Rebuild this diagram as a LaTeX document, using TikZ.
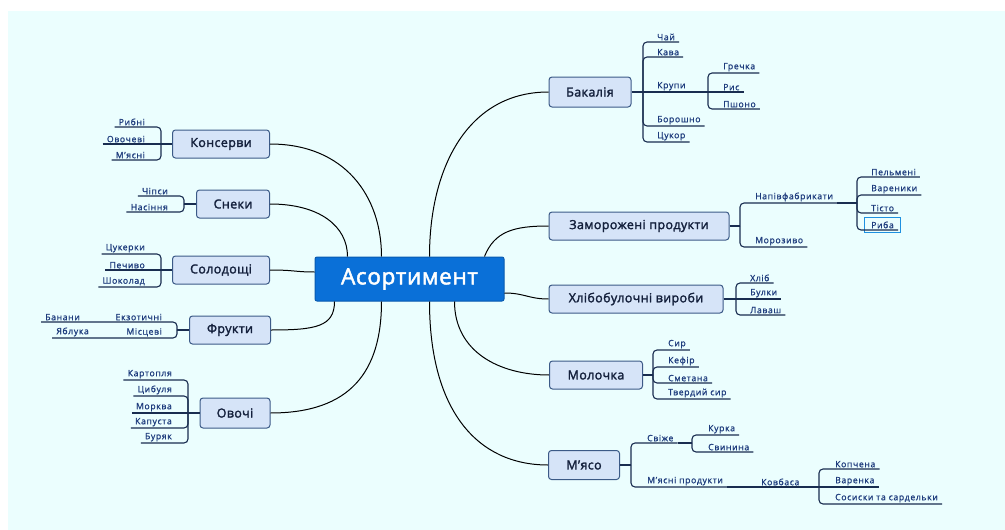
\documentclass[tikz,border=0pt]{standalone}
\usepackage{fontspec}
\setmainfont{Open Sans}
\newfontfamily\topicfont{Open Sans}[LetterSpace=3,BoldFont={Open Sans},BoldFeatures={FakeBold=2}]
\newfontfamily\leaffont{Open Sans}[LetterSpace=7,BoldFont={Open Sans},BoldFeatures={FakeBold=1}]
\usetikzlibrary{fit}

\definecolor{bgcyan}{RGB}{235,254,254}
\definecolor{topicfill}{RGB}{214,228,248}
\definecolor{topicline}{RGB}{60,90,135}
\definecolor{topictext}{RGB}{20,32,60}
\definecolor{leaftext}{RGB}{30,60,125}
\definecolor{ulinecol}{RGB}{25,45,80}
\definecolor{centerfill}{RGB}{10,112,216}
\definecolor{centerline}{RGB}{8,90,175}
\definecolor{selblue}{RGB}{30,144,224}

\tikzset{
  topic/.style={draw=topicline, fill=topicfill, line width=1pt, rounded corners=3pt,
    minimum height=28pt, inner sep=0pt, font=\topicfont\bfseries\fontsize{12.5}{14}\selectfont, text=topictext},
  central/.style={draw=centerline, fill=centerfill, line width=1pt, rounded corners=2pt,
    minimum width=189pt, minimum height=44pt, font=\topicfont\bfseries\fontsize{22.5}{26}\selectfont, text=white},
  leafr/.style={anchor=south west, inner xsep=4pt, inner ysep=1.5pt,
    font=\leaffont\bfseries\fontsize{8.7}{10}\selectfont, text=leaftext},
  leafl/.style={leafr, anchor=south east},
  uline/.style={draw=ulinecol, line width=1.1pt, rounded corners=4pt},
  branch/.style={draw=black, line width=1pt},
  selbox/.style={draw=selblue, line width=1pt, inner xsep=2.5pt, inner ysep=2pt}
}

\begin{document}
\begin{tikzpicture}[x=1pt,y=1pt,yscale=-1,xscale=1]
\useasboundingbox (0,0) rectangle (1005,530);
\fill[bgcyan] (8,11) rectangle (1005,530);

% Centre
\node[central] (asort) at (409.5,279) {Асортимент};

% Topics, left
\node[topic, minimum width=97pt] (konserv) at (221,144) {Консерви};
\node[topic, minimum width=73pt] (sneky) at (233,204) {Снеки};
\node[topic, minimum width=97pt] (solod) at (221,270) {Солодощі};
\node[topic, minimum width=81pt] (frukty) at (230,330) {Фрукти};
\node[topic, minimum width=70pt, minimum height=30pt] (ovochi) at (235,413) {Овочі};

% Topics, right
\node[topic, minimum width=82pt, minimum height=30pt] (bakal) at (590,92) {Бакалія};
\node[topic, minimum width=180pt] (zamor) at (639,226) {Заморожені продукти};
\node[topic, minimum width=174pt] (khlib) at (636,299) {Хлібобулочні вироби};
\node[topic, minimum width=93pt] (moloch) at (596,375) {Молочка};
\node[topic, minimum width=71pt, minimum height=29pt] (myaso) at (584,465) {М’ясо};

% Branches from the centre
\draw[branch] (konserv.east) .. controls +(75,0) and +(0,-60) .. ([xshift=-28pt]asort.north);
\draw[branch] (sneky.east) .. controls +(50,0) and +(0,-30) .. ([xshift=-62pt]asort.north);
\draw[branch] (solod.east) .. controls +(25,0) and +(-20,0) .. ([yshift=-7pt]asort.west);
\draw[branch] (frukty.east) .. controls +(45,0) and +(0,25) .. ([xshift=-75pt]asort.south);
\draw[branch] (ovochi.east) .. controls +(80,0) and +(0,70) .. ([xshift=-28pt]asort.south);
\draw[branch] ([xshift=20pt]asort.north) .. controls +(0,-90) and +(-80,0) .. (bakal.west);
\draw[branch] ([xshift=75pt]asort.north) .. controls +(10,-25) and +(-35,0) .. (zamor.west);
\draw[branch] ([yshift=14pt]asort.east) .. controls +(20,0) and +(-20,0) .. (khlib.west);
\draw[branch] ([xshift=45pt]asort.south) .. controls +(0,50) and +(-50,0) .. (moloch.west);
\draw[branch] ([xshift=20pt]asort.south) .. controls +(0,110) and +(-70,0) .. (myaso.west);

% Консерви
\coordinate (kon) at (161,144);
\node[leafl] (ribni) at (149,127) {Рибні};
\node[leafl] (ovochevi) at (149,144) {Овочеві};
\node[leafl] (myasni) at (149,160) {М’ясні};
\draw[uline] (kon) -- (konserv.west);
\draw[uline] (ribni.south west) -- (ribni.south east) -| (kon);
\draw[uline] (ovochevi.south west) -- (kon);
\draw[uline] (myasni.south west) -- (myasni.south east) -| (kon);

% Снеки
\coordinate (sne) at (184,204);
\node[leafl] (chipsy) at (172,196) {Чіпси};
\node[leafl] (nasinnya) at (172,212) {Насіння};
\draw[uline] (sne) -- (sneky.west);
\draw[uline] (chipsy.south west) -- (chipsy.south east) -| (sne);
\draw[uline] (nasinnya.south west) -- (nasinnya.south east) -| (sne);

% Солодощі
\coordinate (sol) at (161,270);
\node[leafl] (tsukerky) at (149,254) {Цукерки};
\node[leafl] (pechyvo) at (149,270) {Печиво};
\node[leafl] (shokolad) at (149,287) {Шоколад};
\draw[uline] (sol) -- (solod.west);
\draw[uline] (tsukerky.south west) -- (tsukerky.south east) -| (sol);
\draw[uline] (pechyvo.south west) -- (sol);
\draw[uline] (shokolad.south west) -- (shokolad.south east) -| (sol);

% Фрукти
\coordinate (fru) at (177,330);
\node[leafl] (ekzot) at (166,322) {Екзотичні};
\node[leafl] (mistsevi) at (166,338) {Місцеві};
\node[leafl] (banany) at (84,322) {Банани};
\node[leafl] (yabluka) at (93,338) {Яблука};
\draw[uline] (fru) -- (frukty.west);
\draw[uline] (banany.south west) -- (banany.south east) -- (ekzot.south west) -- (ekzot.south east) -| (fru);
\draw[uline] (yabluka.south west) -- (yabluka.south east) -- (mistsevi.south west) -- (mistsevi.south east) -| (fru);

% Овочі
\coordinate (ovo) at (188,413);
\node[leafl] (kartoplya) at (176,380) {Картопля};
\node[leafl] (tsybulya) at (176,396) {Цибуля};
\node[leafl] (morkva) at (176,413) {Морква};
\node[leafl] (kapusta) at (176,428) {Капуста};
\node[leafl] (buryak) at (176,443) {Буряк};
\draw[uline] (ovo) -- (ovochi.west);
\draw[uline] (kartoplya.south west) -- (kartoplya.south east) -| (ovo);
\draw[uline] (tsybulya.south west) -- (tsybulya.south east) -| (ovo);
\draw[uline] (morkva.south west) -- (ovo);
\draw[uline] (kapusta.south west) -- (kapusta.south east) -| (ovo);
\draw[uline] (buryak.south west) -- (buryak.south east) -| (ovo);

% Бакалія
\coordinate (bak) at (643,92);
\node[leafr] (chai) at (653,42) {Чай};
\node[leafr] (kava) at (653,57) {Кава};
\node[leafr] (krupy) at (653,92) {Крупи};
\node[leafr] (boroshno) at (653,126) {Борошно};
\node[leafr] (tsukor) at (653,142) {Цукор};
\draw[uline] (bakal.east) -- (bak);
\draw[uline] (bak) |- (chai.south west) -- (chai.south east);
\draw[uline] (bak) |- (kava.south west) -- (kava.south east);
\draw[uline] (bak) -- (krupy.south west) -- (krupy.south east);
\draw[uline] (bak) |- (boroshno.south west) -- (boroshno.south east);
\draw[uline] (bak) |- (tsukor.south west) -- (tsukor.south east);
% Крупи
\coordinate (kru) at (708,92);
\node[leafr] (grechka) at (719,73) {Гречка};
\node[leafr] (rys) at (719,92) {Рис};
\node[leafr] (pshono) at (719,109) {Пшоно};
\draw[uline] (krupy.south east) -- (kru);
\draw[uline] (kru) |- (grechka.south west) -- (grechka.south east);
\draw[uline] (kru) -- (rys.south west) -- (rys.south east);
\draw[uline] (kru) |- (pshono.south west) -- (pshono.south east);

% Заморожені продукти
\coordinate (zam) at (740,226);
\node[leafr] (napiv) at (751,203) {Напівфабрикати};
\node[leafr] (morozyvo) at (751,247) {Морозиво};
\draw[uline] (zamor.east) -- (zam);
\draw[uline] (zam) |- (napiv.south west) -- (napiv.south east);
\draw[uline] (zam) |- (morozyvo.south west) -- (morozyvo.south east);
% Напівфабрикати
\coordinate (nap) at (857,203);
\node[leafr] (pelmeni) at (867,177) {Пельмені};
\node[leafr] (varenyky) at (867,195) {Вареники};
\node[leafr] (tisto) at (867,213) {Тісто};
\node[leafr] (ryba) at (867,230) {Риба};
\node[selbox, fit=(ryba)] (rybasel) {};
\draw[uline] (napiv.south east) -- (nap);
\draw[uline] (nap) |- (pelmeni.south west) -- (pelmeni.south east);
\draw[uline] (nap) |- (varenyky.south west) -- (varenyky.south east);
\draw[uline] (nap) |- (tisto.south west) -- (tisto.south east);
\draw[uline] (nap) |- (ryba.south west) -- (ryba.south east);

% Хлібобулочні вироби
\coordinate (khl) at (736,299);
\node[leafr] (khlibl) at (746,283) {Хліб};
\node[leafr] (bulky) at (746,299) {Булки};
\node[leafr] (lavash) at (746,315) {Лаваш};
\draw[uline] (khlib.east) -- (khl);
\draw[uline] (khl) |- (khlibl.south west) -- (khlibl.south east);
\draw[uline] (khl) -- (bulky.south west) -- (bulky.south east);
\draw[uline] (khl) |- (lavash.south west) -- (lavash.south east);

% Молочка
\coordinate (mol) at (653,375);
\node[leafr] (syr) at (664,350) {Сир};
\node[leafr] (kefir) at (664,367) {Кефір};
\node[leafr] (smetana) at (664,383) {Сметана};
\node[leafr] (tverdyi) at (664,399) {Твердий сир};
\draw[uline] (moloch.east) -- (mol);
\draw[uline] (mol) |- (syr.south west) -- (syr.south east);
\draw[uline] (mol) |- (kefir.south west) -- (kefir.south east);
\draw[uline] (mol) |- (smetana.south west) -- (smetana.south east);
\draw[uline] (mol) |- (tverdyi.south west) -- (tverdyi.south east);

% М'ясо
\coordinate (mya) at (631,465);
\node[leafr] (svizhe) at (643,443) {Свіже};
\node[leafr] (myasprod) at (643,487) {М’ясні продукти};
\draw[uline] (myaso.east) -- (mya);
\draw[uline] (mya) |- (svizhe.south west) -- (svizhe.south east);
\draw[uline] (mya) |- (myasprod.south west) -- (myasprod.south east);
% Свіже
\coordinate (svi) at (692,443);
\node[leafr] (kurka) at (704,435) {Курка};
\node[leafr] (svynyna) at (704,452) {Свинина};
\draw[uline] (svizhe.south east) -- (svi);
\draw[uline] (svi) |- (kurka.south west) -- (kurka.south east);
\draw[uline] (svi) |- (svynyna.south west) -- (svynyna.south east);
% Ковбаса
\node[leafr] (kovbasa) at (757,487) {Ковбаса};
\coordinate (kov) at (819,487);
\node[leafr] (kopchena) at (831,469) {Копчена};
\node[leafr] (varenka) at (831,487) {Варенка};
\node[leafr] (sosysky) at (831,504) {Сосиски та сардельки};
\draw[uline] (myasprod.south east) -- (kovbasa.south west) -- (kovbasa.south east) -- (kov);
\draw[uline] (kov) |- (kopchena.south west) -- (kopchena.south east);
\draw[uline] (kov) -- (varenka.south west) -- (varenka.south east);
\draw[uline] (kov) |- (sosysky.south west) -- (sosysky.south east);

\end{tikzpicture}
\end{document}
